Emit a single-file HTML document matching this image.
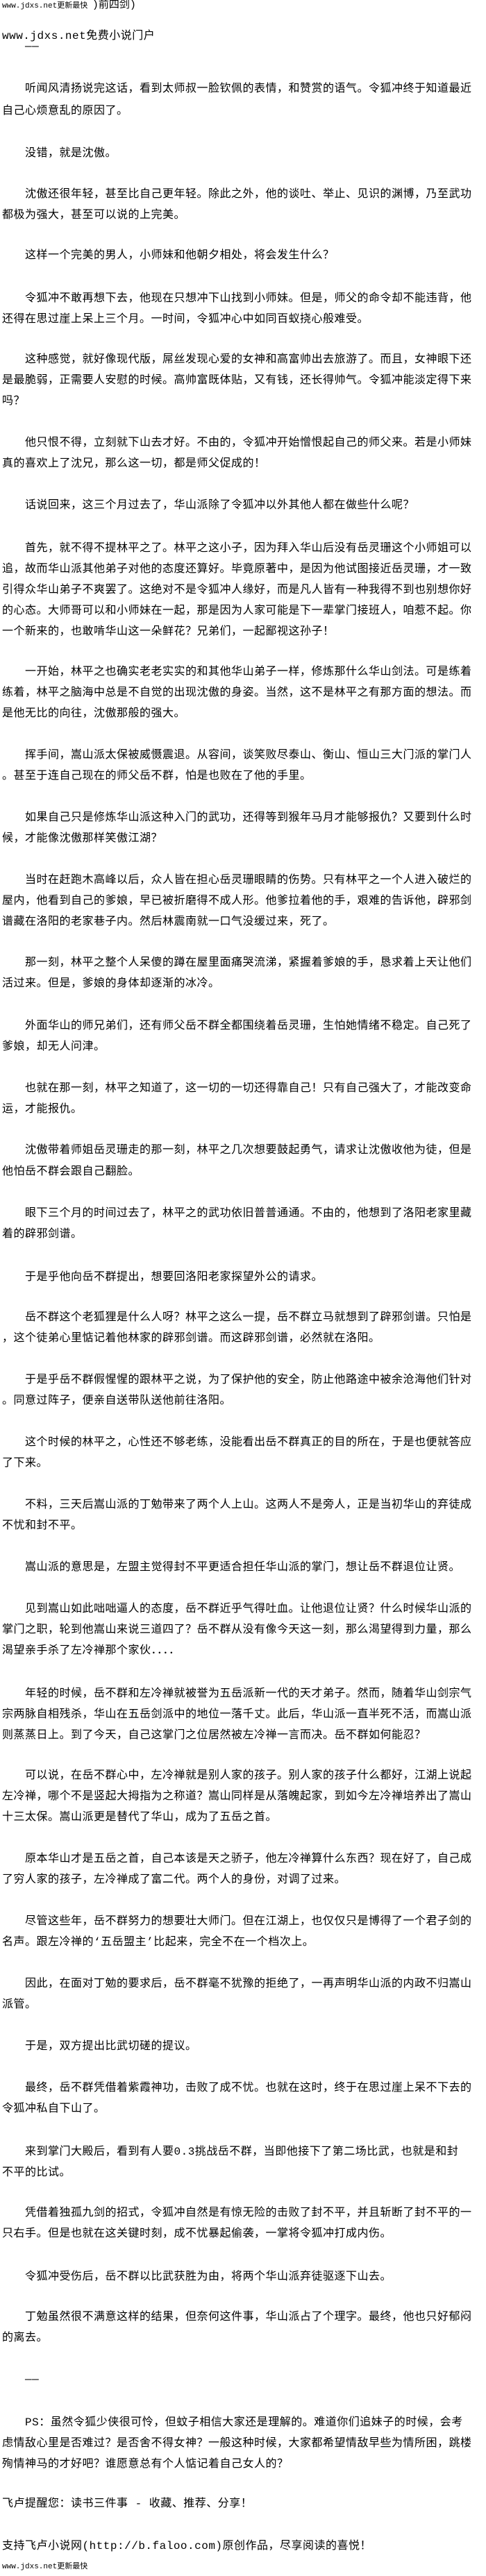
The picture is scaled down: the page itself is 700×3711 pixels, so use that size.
<!DOCTYPE html>
<html><head><meta charset="utf-8"><style>
html,body{margin:0;padding:0;background:#fff;}
body{width:700px;height:3710px;position:relative;overflow:hidden;color:#000;
font-family:"Liberation Mono","Noto Sans CJK SC","WenQuanYi Zen Hei",monospace;}
.l{position:absolute;left:3px;white-space:pre;font-size:16px;line-height:20px;letter-spacing:0.5px;height:20px;}
.i{left:36px;}
.s{font-size:11px;line-height:14px;letter-spacing:0;}
</style></head><body>
<div class="l s" style="top:1px">www.jdxs.net更新最快 <span style="font-size:15px">)前四剑)</span></div>
<div class="l" style="top:42px">www.jdxs.net免费小说门户</div>
<div class="l i" style="top:57px">——</div>
<div class="l i" style="top:118px">听闻风清扬说完这话，看到太师叔一脸钦佩的表情，和赞赏的语气。令狐冲终于知道最近</div>
<div class="l" style="top:150px">自己心烦意乱的原因了。</div>
<div class="l i" style="top:211px">没错，就是沈傲。</div>
<div class="l i" style="top:270px">沈傲还很年轻，甚至比自己更年轻。除此之外，他的谈吐、举止、见识的渊博，乃至武功</div>
<div class="l" style="top:300px">都极为强大，甚至可以说的上完美。</div>
<div class="l i" style="top:358px">这样一个完美的男人，小师妹和他朝夕相处，将会发生什么？</div>
<div class="l i" style="top:420px">令狐冲不敢再想下去，他现在只想冲下山找到小师妹。但是，师父的命令却不能违背，他</div>
<div class="l" style="top:450px">还得在思过崖上呆上三个月。一时间，令狐冲心中如同百蚁挠心般难受。</div>
<div class="l i" style="top:508px">这种感觉，就好像现代版，屌丝发现心爱的女神和高富帅出去旅游了。而且，女神眼下还</div>
<div class="l" style="top:538px">是最脆弱，正需要人安慰的时候。高帅富既体贴，又有钱，还长得帅气。令狐冲能淡定得下来</div>
<div class="l" style="top:568px">吗？</div>
<div class="l i" style="top:628px">他只恨不得，立刻就下山去才好。不由的，令狐冲开始憎恨起自己的师父来。若是小师妹</div>
<div class="l" style="top:658px">真的喜欢上了沈兄，那么这一切，都是师父促成的！</div>
<div class="l i" style="top:718px">话说回来，这三个月过去了，华山派除了令狐冲以外其他人都在做些什么呢？</div>
<div class="l i" style="top:780px">首先，就不得不提林平之了。林平之这小子，因为拜入华山后没有岳灵珊这个小师姐可以</div>
<div class="l" style="top:810px">追，故而华山派其他弟子对他的态度还算好。毕竟原著中，是因为他试图接近岳灵珊，才一致</div>
<div class="l" style="top:840px">引得众华山弟子不爽罢了。这绝对不是令狐冲人缘好，而是凡人皆有一种我得不到也别想你好</div>
<div class="l" style="top:870px">的心态。大师哥可以和小师妹在一起，那是因为人家可能是下一辈掌门接班人，咱惹不起。你</div>
<div class="l" style="top:900px">一个新来的，也敢啃华山这一朵鲜花？兄弟们，一起鄙视这孙子！</div>
<div class="l i" style="top:958px">一开始，林平之也确实老老实实的和其他华山弟子一样，修炼那什么华山剑法。可是练着</div>
<div class="l" style="top:988px">练着，林平之脑海中总是不自觉的出现沈傲的身姿。当然，这不是林平之有那方面的想法。而</div>
<div class="l" style="top:1018px">是他无比的向往，沈傲那般的强大。</div>
<div class="l i" style="top:1078px">挥手间，嵩山派太保被威慑震退。从容间，谈笑败尽泰山、衡山、恒山三大门派的掌门人</div>
<div class="l" style="top:1108px">。甚至于连自己现在的师父岳不群，怕是也败在了他的手里。</div>
<div class="l i" style="top:1168px">如果自己只是修炼华山派这种入门的武功，还得等到猴年马月才能够报仇？又要到什么时</div>
<div class="l" style="top:1198px">候，才能像沈傲那样笑傲江湖？</div>
<div class="l i" style="top:1258px">当时在赶跑木高峰以后，众人皆在担心岳灵珊眼睛的伤势。只有林平之一个人进入破烂的</div>
<div class="l" style="top:1288px">屋内，他看到自己的爹娘，早已被折磨得不成人形。他爹拉着他的手，艰难的告诉他，辟邪剑</div>
<div class="l" style="top:1318px">谱藏在洛阳的老家巷子内。然后林震南就一口气没缓过来，死了。</div>
<div class="l i" style="top:1377px">那一刻，林平之整个人呆傻的蹲在屋里面痛哭流涕，紧握着爹娘的手，恳求着上天让他们</div>
<div class="l" style="top:1407px">活过来。但是，爹娘的身体却逐渐的冰冷。</div>
<div class="l i" style="top:1468px">外面华山的师兄弟们，还有师父岳不群全都围绕着岳灵珊，生怕她情绪不稳定。自己死了</div>
<div class="l" style="top:1498px">爹娘，却无人问津。</div>
<div class="l i" style="top:1558px">也就在那一刻，林平之知道了，这一切的一切还得靠自己！只有自己强大了，才能改变命</div>
<div class="l" style="top:1588px">运，才能报仇。</div>
<div class="l i" style="top:1647px">沈傲带着师姐岳灵珊走的那一刻，林平之几次想要鼓起勇气，请求让沈傲收他为徒，但是</div>
<div class="l" style="top:1678px">他怕岳不群会跟自己翻脸。</div>
<div class="l i" style="top:1738px">眼下三个月的时间过去了，林平之的武功依旧普普通通。不由的，他想到了洛阳老家里藏</div>
<div class="l" style="top:1768px">着的辟邪剑谱。</div>
<div class="l i" style="top:1830px">于是乎他向岳不群提出，想要回洛阳老家探望外公的请求。</div>
<div class="l i" style="top:1888px">岳不群这个老狐狸是什么人呀？林平之这么一提，岳不群立马就想到了辟邪剑谱。只怕是</div>
<div class="l" style="top:1918px">，这个徒弟心里惦记着他林家的辟邪剑谱。而这辟邪剑谱，必然就在洛阳。</div>
<div class="l i" style="top:1978px">于是乎岳不群假惺惺的跟林平之说，为了保护他的安全，防止他路途中被余沧海他们针对</div>
<div class="l" style="top:2008px">。同意过阵子，便亲自送带队送他前往洛阳。</div>
<div class="l i" style="top:2068px">这个时候的林平之，心性还不够老练，没能看出岳不群真正的目的所在，于是也便就答应</div>
<div class="l" style="top:2098px">了下来。</div>
<div class="l i" style="top:2158px">不料，三天后嵩山派的丁勉带来了两个人上山。这两人不是旁人，正是当初华山的弃徒成</div>
<div class="l" style="top:2188px">不忧和封不平。</div>
<div class="l i" style="top:2248px">嵩山派的意思是，左盟主觉得封不平更适合担任华山派的掌门，想让岳不群退位让贤。</div>
<div class="l i" style="top:2308px">见到嵩山如此咄咄逼人的态度，岳不群近乎气得吐血。让他退位让贤？什么时候华山派的</div>
<div class="l" style="top:2338px">掌门之职，轮到他嵩山来说三道四了？岳不群从没有像今天这一刻，那么渴望得到力量，那么</div>
<div class="l" style="top:2368px">渴望亲手杀了左冷禅那个家伙．．．．</div>
<div class="l i" style="top:2430px">年轻的时候，岳不群和左冷禅就被誉为五岳派新一代的天才弟子。然而，随着华山剑宗气</div>
<div class="l" style="top:2460px">宗两脉自相残杀，华山在五岳剑派中的地位一落千丈。此后，华山派一直半死不活，而嵩山派</div>
<div class="l" style="top:2490px">则蒸蒸日上。到了今天，自己这掌门之位居然被左冷禅一言而决。岳不群如何能忍？</div>
<div class="l i" style="top:2548px">可以说，在岳不群心中，左冷禅就是别人家的孩子。别人家的孩子什么都好，江湖上说起</div>
<div class="l" style="top:2578px">左冷禅，哪个不是竖起大拇指为之称道？嵩山同样是从落魄起家，到如今左冷禅培养出了嵩山</div>
<div class="l" style="top:2608px">十三太保。嵩山派更是替代了华山，成为了五岳之首。</div>
<div class="l i" style="top:2668px">原本华山才是五岳之首，自己本该是天之骄子，他左冷禅算什么东西？现在好了，自己成</div>
<div class="l" style="top:2698px">了穷人家的孩子，左冷禅成了富二代。两个人的身份，对调了过来。</div>
<div class="l i" style="top:2758px">尽管这些年，岳不群努力的想要壮大师门。但在江湖上，也仅仅只是博得了一个君子剑的</div>
<div class="l" style="top:2788px">名声。跟左冷禅的‘五岳盟主’比起来，完全不在一个档次上。</div>
<div class="l i" style="top:2848px">因此，在面对丁勉的要求后，岳不群毫不犹豫的拒绝了，一再声明华山派的内政不归嵩山</div>
<div class="l" style="top:2878px">派管。</div>
<div class="l i" style="top:2938px">于是，双方提出比武切磋的提议。</div>
<div class="l i" style="top:2998px">最终，岳不群凭借着紫霞神功，击败了成不忧。也就在这时，终于在思过崖上呆不下去的</div>
<div class="l" style="top:3028px">令狐冲私自下山了。</div>
<div class="l i" style="top:3090px">来到掌门大殿后，看到有人要0.3挑战岳不群，当即他接下了第二场比武，也就是和封</div>
<div class="l" style="top:3120px">不平的比试。</div>
<div class="l i" style="top:3178px">凭借着独孤九剑的招式，令狐冲自然是有惊无险的击败了封不平，并且斩断了封不平的一</div>
<div class="l" style="top:3208px">只右手。但是也就在这关键时刻，成不忧暴起偷袭，一掌将令狐冲打成内伤。</div>
<div class="l i" style="top:3270px">令狐冲受伤后，岳不群以比武获胜为由，将两个华山派弃徒驱逐下山去。</div>
<div class="l i" style="top:3328px">丁勉虽然很不满意这样的结果，但奈何这件事，华山派占了个理字。最终，他也只好郁闷</div>
<div class="l" style="top:3358px">的离去。</div>
<div class="l i" style="top:3418px">——</div>
<div class="l i" style="top:3480px">PS：虽然令狐少侠很可怜，但蚊子相信大家还是理解的。难道你们追妹子的时候，会考</div>
<div class="l" style="top:3510px">虑情敌心里是否难过？是否舍不得女神？一般这种时候，大家都希望情敌早些为情所困，跳楼</div>
<div class="l" style="top:3540px">殉情神马的才好吧？谁愿意总有个人惦记着自己女人的？</div>
<div class="l" style="top:3597px">飞卢提醒您：读书三件事 - 收藏、推荐、分享！</div>
<div class="l" style="top:3658px">支持飞卢小说网(http://b.faloo.com)原创作品，尽享阅读的喜悦！</div>
<div class="l s" style="top:3691px">www.jdxs.net更新最快</div>
</body></html>
